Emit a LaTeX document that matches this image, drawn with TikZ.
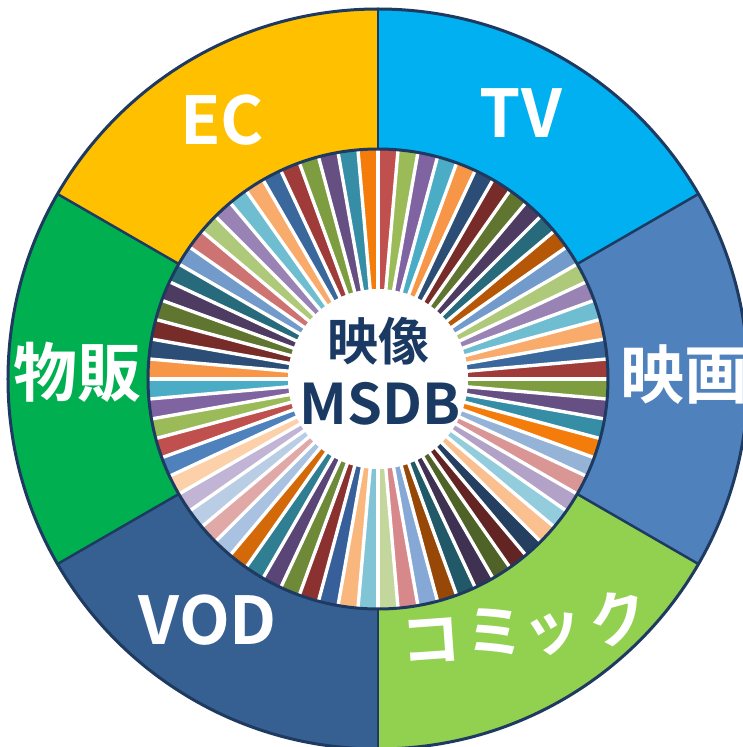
\documentclass[tikz,border=0pt]{standalone}
\usepackage{fontspec}
\newfontfamily\jp{Noto Sans CJK JP}[BoldFont={Noto Sans CJK JP Bold}]
\definecolor{navy}{HTML}{1F3A60}
\definecolor{ctext}{HTML}{1A3A64}
\definecolor{cTV}{HTML}{00B0F0}
\definecolor{cEIGA}{HTML}{4F81BD}
\definecolor{cCOMIC}{HTML}{92D050}
\definecolor{cVOD}{HTML}{366092}
\definecolor{cBUPPAN}{HTML}{00B050}
\definecolor{cEC}{HTML}{FFC000}
\tikzset{
  seglabel/.style={text=white,inner sep=0pt,font=\jp\bfseries\fontsize{66}{70}\selectfont},
  jplabel/.style={text=white,inner sep=0pt,font=\jp\bfseries\fontsize{64}{70}\selectfont},
  comiclabel/.style={text=white,inner sep=0pt,font=\jp\bfseries\fontsize{60}{66}\selectfont},
  border/.style={draw=navy,line width=3pt},
  divider/.style={draw=navy,line width=2.5pt},
  gap/.style={draw=white,line width=3.4pt}
}
\begin{document}
\begin{tikzpicture}[x=1pt,y=1pt]
\useasboundingbox (-378,-368) rectangle (365,379);
\fill[white] (-378,-368) rectangle (365,379);
\def\rin{90}
\def\rmid{230}
\def\rout{370}
% outer sectors
\foreach \a/\b/\c in {90/30/cTV,30/-30/cEIGA,-30/-90/cCOMIC,-90/-150/cVOD,-150/-210/cBUPPAN,150/90/cEC}{
  \fill[\c] (\a:\rmid) -- (\a:\rout) arc[start angle=\a,end angle=\b,radius=\rout] -- (\b:\rmid) arc[start angle=\b,end angle=\a,radius=\rmid] -- cycle;
}
% spokes
\foreach \c [count=\i] in {C0504D,9BBB59,8064A2,4BACC6,F79646,2C4D75,772C2A,5F7530,4D3B62,276A7C,B65708,729ACA,AFC97A,9983B5,6FBDD1,F9AB6B,3A679C,9F3B38,
7E9D40,664F83,358EA6,F47C0B,95B3D7,D99694,B3A2C7,93CDDD,FAC090,243F60,632523,4F6228,3F3151,215968,974806,86A8D6,D7888B,C3D69B,
80C4D6,F9B77E,37609B,8B3230,6E8A38,594677,2F7E92,D4690A,A9C2E1,E0A9A8,B9CDE5,C1B4D5,FCD0A9,4F81BD,C0504D,9BBB59,8064A2,4BACC6,
F79646,2C4D75,772C2A,5F7530,4D3B62,276A7C,729ACA,CD7371,AFC97A,9983B5,6FBDD1,F9AB6B,3A679C,9F3B38,7E9D40,664F83,358EA6,F47C0B}{
  \definecolor{spk}{HTML}{\c}
  \pgfmathsetmacro{\sa}{90-5*(\i-1)}
  \pgfmathsetmacro{\ea}{90-5*\i}
  \fill[spk] (0,0) -- (\sa:\rmid) arc[start angle=\sa,end angle=\ea,radius=\rmid] -- cycle;
}
\foreach \k in {0,...,71}{
  \draw[gap] (0,0) -- ({5*\k}:\rmid);
}
\fill[white] (0,0) circle[radius=\rin];
% borders
\foreach \a in {90,30,-30,-90,-150,150}{
  \draw[divider] (\a:\rmid) -- (\a:\rout);
}
\draw[border] (0,0) circle[radius=\rmid];
\draw[border] (0,0) circle[radius=\rout];
% labels
\node[seglabel] (ec) at (-156,259) {EC};
\node[seglabel] (tv) at (143,266) {TV};
\node[seglabel] (vod) at (-170,-241) {VOD};
\node[jplabel] (eiga) at (306,4) {映画};
\node[jplabel] (buppan) at (-300,7) {物販};
\node[comiclabel,rotate=4] (c1) at (53,-262) {コ};
\node[comiclabel,rotate=7] (c2) at (117,-253) {ミ};
\node[comiclabel,rotate=11] (c3) at (176,-255) {ッ};
\node[comiclabel,rotate=15] (c4) at (241,-239) {ク};
\node[text=ctext,inner sep=0pt,font=\jp\bfseries\fontsize{51}{55}\selectfont] (eizo) at (1,38) {映像};
\node[text=ctext,inner sep=0pt,font=\jp\bfseries\fontsize{56}{60}\selectfont] (msdb) at (2,-25) {MSDB};
\end{tikzpicture}
\end{document}
